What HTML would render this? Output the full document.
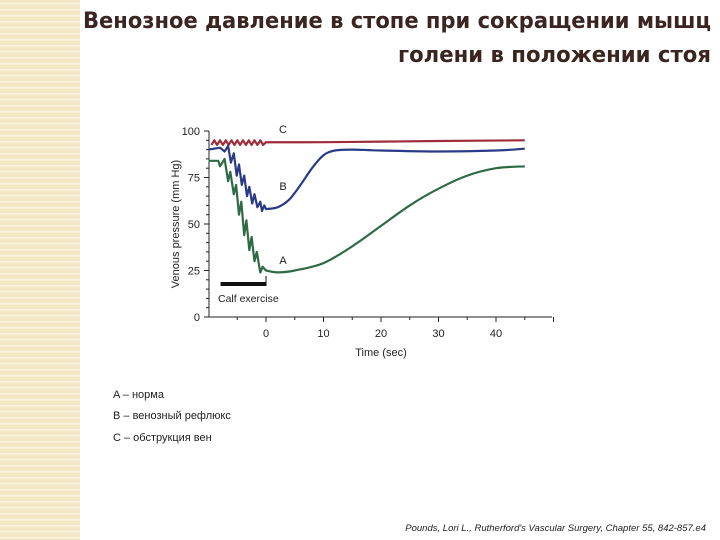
<!DOCTYPE html>
<html><head><meta charset="utf-8"><style>
html,body{margin:0;padding:0;background:#fff}
#wrap{position:relative;width:720px;height:540px;overflow:hidden;font-family:"Liberation Sans","DejaVu Sans",sans-serif}
</style></head><body>
<div id="wrap">
<svg width="720" height="540" viewBox="0 0 720 540" xmlns="http://www.w3.org/2000/svg">
<defs>
<pattern id="stripe" width="8" height="6" patternUnits="userSpaceOnUse">
<rect width="8" height="6" fill="#f3e7c6"/>
<rect y="3" width="8" height="1.5" fill="#fbf4df"/>
</pattern>
</defs>
<rect x="0" y="0" width="80" height="540" fill="url(#stripe)"/>
<text x="83" y="28" font-family="DejaVu Sans, sans-serif" font-weight="bold" font-size="22" fill="#3a2520" textLength="628" lengthAdjust="spacingAndGlyphs">Венозное давление в стопе при сокращении мышц</text>
<text x="398" y="62" font-family="DejaVu Sans, sans-serif" font-weight="bold" font-size="22" fill="#3a2520" textLength="313" lengthAdjust="spacingAndGlyphs">голени в положении стоя</text>
<g id="chart"></g>
<text x="113" y="398" font-size="11" fill="#222">A – норма</text>
<text x="113" y="419" font-size="11" fill="#222">B – венозный рефлюкс</text>
<text x="113" y="441" font-size="11" fill="#222">C – обструкция вен</text>
<text x="706" y="531" font-size="9.5" font-style="italic" fill="#222" text-anchor="end">Pounds, Lori L., Rutherford's Vascular Surgery, Chapter 55, 842-857.e4</text>
</svg>
</div>
<script>
const yTicks=[0,25,50,75,100];
const xTicks=[0,10,20,30,40];
const seriesA_t=[-10,-8.3,-8,-7.2,-6.6,-6.2,-5.6,-5.2,-4.7,-4.3,-3.8,-3.4,-2.9,-2.5,-2,-1.6,-1,-0.6,0,2,5,10,15,20,25,30,35,40,45];
const seriesA_v=[84,84,81,85,73,78,66,71,55,62,44,52,36,43,30,35,24,27,25,24,25,29,38,49,60,69,76,80,81];
const seriesB_t=[-10,-8,-7.2,-6.6,-6.1,-5.6,-5.1,-4.7,-4.2,-3.8,-3.3,-2.9,-2.4,-2,-1.5,-1,-0.7,-0.3,0,2,4,6,8,10,12,15,20,30,40,45];
const seriesB_v=[90,91,89,92,83,88,76,82,71,76,65,70,61,66,59,62,57,60,58,59,63,71,80,87,89.5,90,89.5,89,89.5,90.5];
const seriesC_t=[-9.5,-9,-8.5,-8,-7.5,-7,-6.5,-6,-5.5,-5,-4.5,-4,-3.5,-3,-2.5,-2,-1.5,-1,-0.5,0,10,20,30,45];
const seriesC_v=[92.5,95,92.5,95,92.5,95,92.5,95,92.5,95,92.5,95,92.5,95,92.5,95,92.5,95,92.5,94,94,94.3,94.6,95];
const NS='http://www.w3.org/2000/svg';
const X=t=>266+t*5.75, Y=v=>317-v*1.86;
const g=document.getElementById('chart');
function mk(tag,attrs,parent){const e=document.createElementNS(NS,tag);for(const k in attrs)e.setAttribute(k,attrs[k]);(parent||g).appendChild(e);return e;}
let e;
e=mk('line',{x1:209,y1:131,x2:209,y2:317,stroke:'#222','stroke-width':1});


e=mk('line',{x1:209,y1:317,x2:552,y2:317,stroke:'#222','stroke-width':1});


for(let v=0;v<=100;v+=5){const major=v%25===0;e=mk('line',{x1:major?204:206,y1:Y(v),x2:209,y2:Y(v),stroke:'#222','stroke-width':1});

}
yTicks.forEach(v=>{e=mk('text',{x:200,y:Y(v)+4,'font-size':11,'text-anchor':'end',fill:'#222'});e.textContent=v;

});
for(let t=-5;t<=50;t+=5){const major=t%10===0;e=mk('line',{x1:X(t),y1:317,x2:X(t),y2:major?322:320,stroke:'#222','stroke-width':1});

}
xTicks.forEach(t=>{e=mk('text',{x:X(t),y:337,'font-size':11,'text-anchor':'middle',fill:'#222'});e.textContent=t;

});
e=mk('text',{x:381,y:356,'font-size':11,'text-anchor':'middle',fill:'#222'});e.textContent='Time (sec)';


e=mk('text',{x:0,y:0,'font-size':11,'text-anchor':'middle',fill:'#222',transform:'translate(179,224) rotate(-90)'});e.textContent='Venous pressure (mm Hg)';


function line(ts,vs,color,name){
const P=ts.map((t,i)=>[X(t),Y(vs[i])]);
let d='M'+P[0][0].toFixed(1)+','+P[0][1].toFixed(1);
for(let i=1;i<P.length;i++){
if(ts[i-1]<0){d+=' L'+P[i][0].toFixed(1)+','+P[i][1].toFixed(1);continue;}
const p0=P[Math.max(i-2,0)],p1=P[i-1],p2=P[i],p3=P[Math.min(i+1,P.length-1)];
const a=ts[i-2]!==undefined&&ts[i-2]<0?p1:p0;
const c1=[p1[0]+(p2[0]-a[0])/6,p1[1]+(p2[1]-a[1])/6];
const c2=[p2[0]-(p3[0]-p1[0])/6,p2[1]-(p3[1]-p1[1])/6];
d+=' C'+c1[0].toFixed(1)+','+c1[1].toFixed(1)+' '+c2[0].toFixed(1)+','+c2[1].toFixed(1)+' '+p2[0].toFixed(1)+','+p2[1].toFixed(1);}
const p=mk('path',{d:d,fill:'none',stroke:color,'stroke-width':2.2,'stroke-linejoin':'round'});

}
line(seriesC_t,seriesC_v,'#a02a3a','series-c-line');
line(seriesB_t,seriesB_v,'#2a3a86','series-b-line');
line(seriesA_t,seriesA_v,'#2e6a44','series-a-line');
e=mk('text',{x:283,y:133,'font-size':11,'text-anchor':'middle',fill:'#222'});e.textContent='C';


e=mk('text',{x:283,y:190,'font-size':11,'text-anchor':'middle',fill:'#222'});e.textContent='B';


e=mk('text',{x:283,y:264,'font-size':11,'text-anchor':'middle',fill:'#222'});e.textContent='A';


e=mk('rect',{x:X(-7.9),y:282,width:X(0)-X(-7.9),height:4,fill:'#111'});


e=mk('line',{x1:X(0),y1:276,x2:X(0),y2:286,stroke:'#111','stroke-width':1});


e=mk('text',{x:218,y:302,'font-size':10.5,fill:'#222'});e.textContent='Calf exercise';


</script>
</body></html>
